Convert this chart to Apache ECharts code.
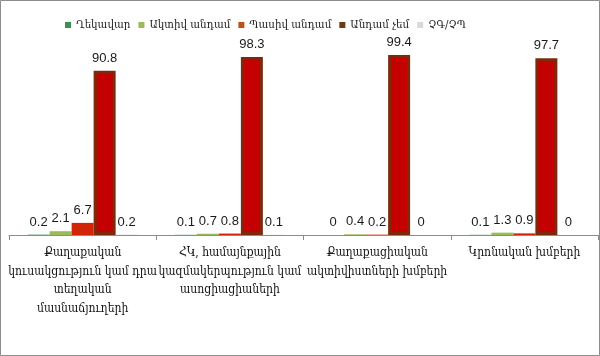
<!DOCTYPE html>
<html>
<head>
<meta charset="utf-8">
<script src="https://cdn.jsdelivr.net/npm/echarts@6/dist/echarts.min.js"></script>
<style>
html,body{margin:0;padding:0;background:#fff;}
#c{width:600px;height:356px;}
</style>
</head>
<body>
<div id="c"></div>
<script>
const categories = [
  "Քաղաքական\nկուսակցություն կամ դրա\nտեղական\nմասնաճյուղերի",
  "ՀԿ, համայնքային\nկազմակերպություն կամ\nասոցիացիաների",
  "Քաղաքացիական\nակտիվիստների խմբերի",
  "Կրոնական խմբերի"
];
const seriesNames = ["Ղեկավար", "Ակտիվ անդամ", "Պասիվ անդամ", "Անդամ չեմ", "ՉԳ/ՉՊ"];
const leader   = [0.2, 0.1, 0, 0.1];
const active   = [2.1, 0.7, 0.4, 1.3];
const passive  = [6.7, 0.8, 0.2, 0.9];
const notMember= [90.8, 98.3, 99.4, 97.7];
const dkna     = [0.2, 0.1, 0, 0];

const legendColors = ["#3f8f55", "#9bbb59", "#c0501a", "#6b3a12", "#d9d9d9"];
const fills = [
  {color: "#3f8f55"},
  {color: "#9bbb59"},
  {color: "#d42408"},
  {color: "#c40000", borderColor: "#7d2a0c", borderWidth: 3},
  {color: "#d9d9d9"}
];
const datas = [leader, active, passive, notMember, dkna];

const chart = echarts.init(document.getElementById('c'));
const labelStyle = {show: true, position: 'top', distance: 6, fontSize: 13, color: '#1a1a1a', fontFamily: 'Liberation Sans, Arial, sans-serif'};
const armFont = 'DejaVu Serif Condensed, DejaVu Serif, serif';

chart.setOption({
  animation: false,
  graphic: [{type: 'rect', shape: {x: 0.5, y: 0.5, width: 599, height: 355}, style: {fill: 'none', stroke: '#8c8c8c', lineWidth: 1}}],
  legend: {
    top: 14, left: 60, width: 560,
    itemWidth: 6, itemHeight: 6, itemGap: 8,
    icon: 'rect',
    textStyle: {fontSize: 11.5, color: '#222', fontFamily: armFont},
    data: seriesNames.map((n, i) => ({name: n, itemStyle: {color: legendColors[i], borderWidth: 0}}))
  },
  grid: {left: 9, right: 2, top: 54, bottom: 121},
  xAxis: {
    type: 'category',
    data: categories,
    axisLine: {lineStyle: {color: '#8c8c8c'}},
    axisTick: {show: true, length: 5, lineStyle: {color: '#8c8c8c'}},
    axisLabel: {interval: 0, margin: 9, fontSize: 12, lineHeight: 18.5, color: '#111', fontFamily: armFont, align: 'center'}
  },
  yAxis: {type: 'value', min: 0, max: 100, show: false, splitLine: {show: false}},
  series: seriesNames.map((n, i) => ({
    name: n, type: 'bar', data: datas[i],
    barWidth: 22, barGap: '0%',
    itemStyle: fills[i],
    label: labelStyle
  }))
});
</script>
</body>
</html>
